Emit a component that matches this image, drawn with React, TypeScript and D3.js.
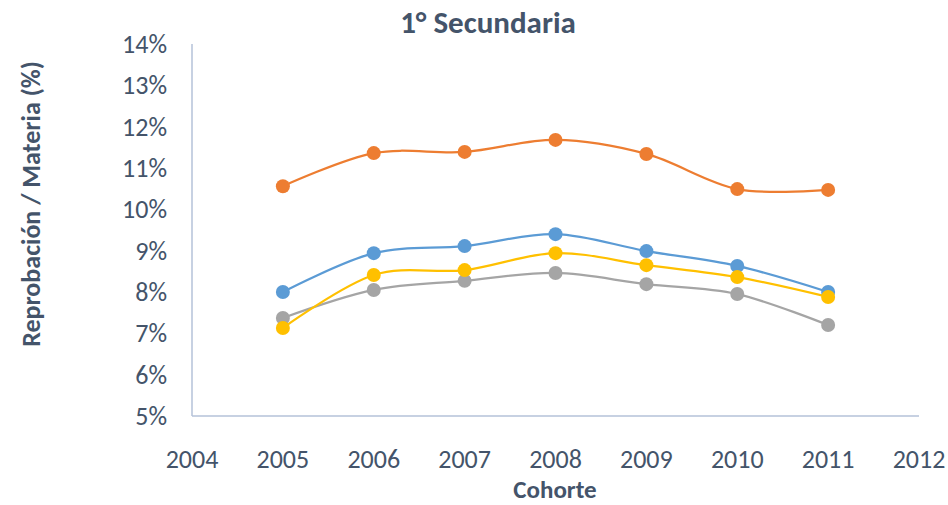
import React, { useEffect, useRef } from 'react';
import * as d3 from 'd3';

const years = [2005, 2006, 2007, 2008, 2009, 2010, 2011];
const xTicks = [2004, 2005, 2006, 2007, 2008, 2009, 2010, 2011, 2012];
const yTicks = [5, 6, 7, 8, 9, 10, 11, 12, 13, 14];

const serieAzul = [8.0, 8.94, 9.11, 9.40, 8.99, 8.63, 8.0];
const serieNaranja = [10.56, 11.36, 11.39, 11.68, 11.34, 10.49, 10.47];
const serieGris = [7.37, 8.05, 8.27, 8.46, 8.19, 7.95, 7.20];
const serieAmarilla = [7.13, 8.41, 8.53, 8.94, 8.65, 8.36, 7.88];

const series = [
  { values: serieAzul, color: '#5b9bd5' },
  { values: serieNaranja, color: '#ed7d31' },
  { values: serieGris, color: '#a5a5a5' },
  { values: serieAmarilla, color: '#ffc000' },
];

const App: React.FC = () => {
  const svgRef = useRef<SVGSVGElement>(null);

  useEffect(() => {
    if (!svgRef.current) return;
    const width = 948;
    const height = 505;
    const font = "Calibri, Carlito, 'Open Sans', sans-serif";
    const textColor = '#44546a';
    const axisColor = '#b4c2d9';

    const svg = d3.select(svgRef.current);
    svg.selectAll('*').remove();
    svg.attr('width', width).attr('height', height);

    const x = d3.scaleLinear().domain([2004, 2012]).range([192, 919]);
    const y = d3.scaleLinear().domain([5, 14]).range([416, 44]);

    // Title
    svg.append('text')
      .attr('x', 488).attr('y', 33)
      .attr('text-anchor', 'middle')
      .attr('fill', textColor)
      .style('font-family', font)
      .style('font-size', '31px')
      .style('font-weight', 'bold')
      .text('1° Secundaria');

    // Axes lines
    svg.append('line')
      .attr('x1', x(2004)).attr('x2', x(2004))
      .attr('y1', y(14)).attr('y2', y(5))
      .attr('stroke', axisColor).attr('stroke-width', 1.5);
    svg.append('line')
      .attr('x1', x(2004)).attr('x2', x(2012))
      .attr('y1', y(5)).attr('y2', y(5))
      .attr('stroke', axisColor).attr('stroke-width', 1.5);

    // Y tick labels
    yTicks.forEach(t => {
      svg.append('text')
        .attr('x', 167).attr('y', y(t) + 9)
        .attr('text-anchor', 'end')
        .attr('fill', textColor)
        .style('font-family', font)
        .style('font-size', '26px')
        .text(`${t}%`);
    });

    // X tick labels
    xTicks.forEach(t => {
      svg.append('text')
        .attr('x', x(t)).attr('y', 468)
        .attr('text-anchor', 'middle')
        .attr('fill', textColor)
        .style('font-family', font)
        .style('font-size', '26px')
        .text(String(t));
    });

    // Axis titles
    svg.append('text')
      .attr('x', 555).attr('y', 498)
      .attr('text-anchor', 'middle')
      .attr('fill', textColor)
      .style('font-family', font)
      .style('font-size', '25px')
      .style('font-weight', 'bold')
      .text('Cohorte');

    svg.append('text')
      .attr('transform', 'translate(40, 204) rotate(-90)')
      .attr('text-anchor', 'middle')
      .attr('fill', textColor)
      .style('font-family', font)
      .style('font-size', '26px')
      .style('font-weight', 'bold')
      .text('Reprobación / Materia (%)');

    const line = d3.line<number>()
      .x((d, i) => x(years[i]))
      .y(d => y(d))
      .curve(d3.curveCardinal.tension(0));

    series.forEach(s => {
      svg.append('path')
        .datum(s.values)
        .attr('d', line)
        .attr('fill', 'none')
        .attr('stroke', s.color)
        .attr('stroke-width', 2.25);
    });

    series.forEach(s => {
      s.values.forEach((v, i) => {
        svg.append('circle')
          .attr('cx', x(years[i]))
          .attr('cy', y(v))
          .attr('r', 7)
          .attr('fill', s.color);
      });
    });
  }, []);

  return <svg ref={svgRef} style={{ position: 'absolute', left: 0, top: 0 }}></svg>;
};

export default App;
